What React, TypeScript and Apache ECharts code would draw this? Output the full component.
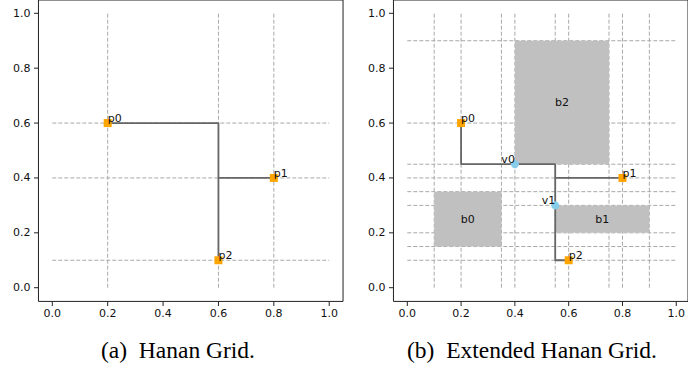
import React, { useEffect, useRef } from "react";
import * as echarts from "echarts";

// ---- shared ticks ----
const tickValues = [0, 0.2, 0.4, 0.6, 0.8, 1.0];

// ---- panel (a): Hanan grid ----
const hananXs = [0.2, 0.6, 0.8];
const hananYs = [0.6, 0.4, 0.1];
const pinNames = ["p0", "p1", "p2"];
const pinXs = [0.2, 0.8, 0.6];
const pinYs = [0.6, 0.4, 0.1];
const treeAMain = [[0.2, 0.6], [0.6, 0.6], [0.6, 0.1]];
const treeABranch = [[0.6, 0.4], [0.8, 0.4]];

// ---- panel (b): extended Hanan grid ----
const extXs = [0.1, 0.2, 0.35, 0.4, 0.55, 0.6, 0.75, 0.8, 0.9];
const extYs = [0.9, 0.6, 0.45, 0.4, 0.35, 0.3, 0.2, 0.15, 0.1];
const boxNames = ["b0", "b1", "b2"];
const boxX0 = [0.1, 0.55, 0.4];
const boxX1 = [0.35, 0.9, 0.75];
const boxY0 = [0.15, 0.2, 0.45];
const boxY1 = [0.35, 0.3, 0.9];
const viaNames = ["v0", "v1"];
const viaXs = [0.4, 0.55];
const viaYs = [0.45, 0.3];
const pinBXs = [0.2, 0.8, 0.6];
const pinBYs = [0.6, 0.4, 0.1];
const treeBMain = [[0.2, 0.6], [0.2, 0.45], [0.55, 0.45], [0.55, 0.1], [0.6, 0.1]];
const treeBBranch = [[0.55, 0.4], [0.8, 0.4]];

const captions = ["(a)\u2002Hanan Grid.", "(b)\u2002Extended Hanan Grid."];

const TEXT = "#111";
const SPINE = "#222";
const SANS = "'DejaVu Sans', sans-serif";
const SERIF = "'Liberation Serif', 'Times New Roman', serif";

// layout (px)
const PX_X = 276.9; // width of 0..1
const PX_Y = 274.4; // height of 0..1
const PAD_X = PX_X * 0.05;
const PAD_Y = PX_Y * 0.05;
const INNER_TOP = 13.3;
const INNER_LEFT = [52.3, 407.3];
const TICK_LEN = 4.5;

function gridLineData(xs: number[], ys: number[]) {
  const d: number[][] = [];
  xs.forEach((x) => d.push([x, 0, x, 1]));
  ys.forEach((y) => d.push([0, y, 1, y]));
  return d;
}

function makeAxis(kind: "x" | "y", gridIndex: number) {
  return {
    type: "value",
    gridIndex,
    position: kind === "x" ? "bottom" : "left",
    offset: kind === "x" ? PAD_Y : PAD_X,
    min: 0,
    max: 1,
    interval: 0.2,
    splitLine: { show: false },
    axisLine: { show: false, onZero: false },
    axisTick: { show: false },
    axisLabel: {
      show: true,
      margin: kind === "x" ? 7 : 8,
      fontSize: 11,
      fontFamily: SANS,
      color: TEXT,
      formatter: (v: number) => v.toFixed(1),
    },
  };
}

function hiddenAxis(gridIndex: number) {
  return { type: "value", gridIndex, show: false, min: 0, max: 1 };
}

// tick marks: thin rects located through the axis scale, on the spines
function tickSeries(idx: number) {
  const data: number[][] = [];
  tickValues.forEach((v) => data.push([v, 0, 0]));
  tickValues.forEach((v) => data.push([0, v, 1]));
  return {
    type: "custom",
    xAxisIndex: idx,
    yAxisIndex: idx,
    z: 10,
    clip: false,
    silent: true,
    data,
    renderItem: (_p: any, api: any) => {
      const p = api.coord([api.value(0), api.value(1)]);
      const isY = api.value(2) === 1;
      const shape = isY
        ? { x: p[0] - PAD_X - TICK_LEN, y: p[1] - 0.5, width: TICK_LEN, height: 1 }
        : { x: p[0] - 0.5, y: p[1] + PAD_Y, width: 1, height: TICK_LEN };
      return {
        type: "rect",
        shape,
        style: { fill: SPINE },
      };
    },
  };
}

function dashedSeries(idx: number, data: number[][]) {
  return {
    type: "custom",
    xAxisIndex: idx,
    yAxisIndex: idx,
    z: 1,
    silent: true,
    data,
    renderItem: (_p: any, api: any) => {
      const a = api.coord([api.value(0), api.value(1)]);
      const b = api.coord([api.value(2), api.value(3)]);
      return {
        type: "line",
        shape: { x1: a[0], y1: a[1], x2: b[0], y2: b[1] },
        style: { stroke: "#a8a8a8", lineWidth: 1, lineDash: [4, 2] },
      };
    },
  };
}

function pathSeries(idx: number, data: number[][]) {
  return {
    type: "line",
    xAxisIndex: idx,
    yAxisIndex: idx,
    z: 3,
    data,
    symbol: "none",
    silent: true,
    clip: false,
    lineStyle: { color: "#666666", width: 1.8 },
  };
}

function pointSeries(
  idx: number,
  names: string[],
  xs: number[],
  ys: number[],
  symbol: string,
  color: string,
  align: "left" | "right"
) {
  return {
    type: "scatter",
    xAxisIndex: idx,
    yAxisIndex: idx,
    z: 4,
    symbol,
    symbolSize: 8,
    clip: false,
    itemStyle: { color, opacity: 1 },
    data: names.map((n, i) => ({ name: n, value: [xs[i], ys[i]] })),
    label: {
      show: true,
      formatter: "{b}",
      position: [4, 5],
      align,
      verticalAlign: "bottom",
      fontSize: 11,
      fontFamily: SANS,
      color: TEXT,
    },
  };
}

export default function App() {
  const ref = useRef<HTMLDivElement>(null);

  useEffect(() => {
    if (!ref.current) return;
    const chart = echarts.init(ref.current, undefined, { renderer: "svg" });

    const innerGrid = (left: number) => ({
      left,
      top: INNER_TOP,
      width: PX_X,
      height: PX_Y,
      show: false,
      containLabel: false,
    });
    const outerGrid = (left: number) => ({
      left: left - PAD_X,
      top: INNER_TOP - PAD_Y,
      width: PX_X + 2 * PAD_X,
      height: PX_Y + 2 * PAD_Y,
      show: true,
      borderColor: SPINE,
      borderWidth: 1,
      backgroundColor: "transparent",
      containLabel: false,
    });

    const boxData = boxNames.map((_, i) => [boxX0[i], boxY0[i], boxX1[i], boxY1[i]]);

    const option: any = {
      animation: false,
      backgroundColor: "#ffffff",
      grid: [
        innerGrid(INNER_LEFT[0]),
        innerGrid(INNER_LEFT[1]),
        outerGrid(INNER_LEFT[0]),
        outerGrid(INNER_LEFT[1]),
      ],
      xAxis: [makeAxis("x", 0), makeAxis("x", 1), hiddenAxis(2), hiddenAxis(3)],
      yAxis: [makeAxis("y", 0), makeAxis("y", 1), hiddenAxis(2), hiddenAxis(3)],
      series: [
        dashedSeries(0, gridLineData(hananXs, hananYs)),
        pathSeries(0, treeAMain),
        pathSeries(0, treeABranch),
        pointSeries(0, pinNames, pinXs, pinYs, "rect", "#FFA500", "left"),
        tickSeries(0),

        dashedSeries(1, gridLineData(extXs, extYs)),
        {
          type: "custom",
          xAxisIndex: 1,
          yAxisIndex: 1,
          z: 2,
          silent: true,
          data: boxData,
          renderItem: (params: any, api: any) => {
            const tl = api.coord([api.value(0), api.value(3)]);
            const br = api.coord([api.value(2), api.value(1)]);
            return {
              type: "group",
              children: [
                {
                  type: "rect",
                  shape: { x: tl[0], y: tl[1], width: br[0] - tl[0], height: br[1] - tl[1] },
                  style: { fill: "#c0c0c0" },
                },
                {
                  type: "text",
                  x: (tl[0] + br[0]) / 2,
                  y: (tl[1] + br[1]) / 2,
                  style: {
                    text: boxNames[params.dataIndex],
                    fill: TEXT,
                    fontSize: 11,
                    fontFamily: SANS,
                    align: "center",
                    verticalAlign: "middle",
                  },
                },
              ],
            };
          },
        },
        pathSeries(1, treeBMain),
        pathSeries(1, treeBBranch),
        pointSeries(1, pinNames, pinBXs, pinBYs, "rect", "#FFA500", "left"),
        pointSeries(1, viaNames, viaXs, viaYs, "circle", "#87CEEB", "right"),
        tickSeries(1),
      ],
      graphic: [
        {
          type: "text",
          x: 178,
          y: 350,
          style: {
            text: captions[0],
            fill: "#000",
            fontSize: 23.5,
            fontFamily: SERIF,
            align: "center",
            verticalAlign: "middle",
          },
        },
        {
          type: "text",
          x: 532,
          y: 350,
          style: {
            text: captions[1],
            fill: "#000",
            fontSize: 23.5,
            fontFamily: SERIF,
            align: "center",
            verticalAlign: "middle",
          },
        },
      ],
    };

    chart.setOption(option);
    return () => chart.dispose();
  }, []);

  return (
    <div
      ref={ref}
      style={{ position: "fixed", left: 0, top: 0, width: 688, height: 371, background: "#fff" }}
    />
  );
}
